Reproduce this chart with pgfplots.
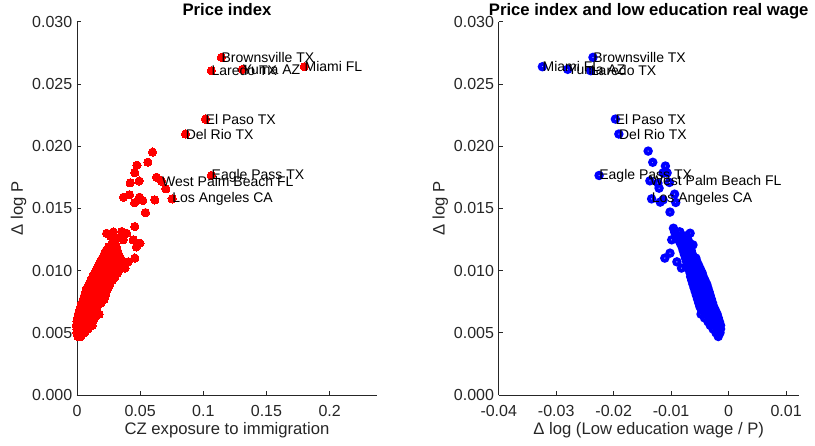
\documentclass[border=0pt]{standalone}
\usepackage{fontspec}
\setmainfont{Liberation Sans}
\usepackage{pgfplots}
\pgfplotsset{compat=1.18}

\definecolor{axgray}{RGB}{38,38,38}

\pgfplotsset{
  panel/.style={
    scale only axis, width=225pt, height=280pt,
    axis x line*=bottom, axis y line*=left,
    axis line style={axgray, line width=0.5pt, -},
    tick style={axgray, line width=0.5pt}, major tick length=3pt,
    tick label style={font=\fontsize{12}{14}\selectfont, text=axgray},
    xticklabel style={yshift=-4.5pt},
    label style={font=\fontsize{12.5}{15}\selectfont, text=axgray},
    every axis title shift=0pt,
    title style={font=\fontsize{12.5}{15}\selectfont\bfseries, at={(0.5,1)}, anchor=base, yshift=4.5pt, inner sep=0pt},
    scaled ticks=false,
    ymin=0, ymax=0.03,
    ytick={0,0.005,0.01,0.015,0.02,0.025,0.03},
    yticklabels={0.000,0.005,0.010,0.015,0.020,0.025,0.030},
    ylabel={Δ log P},
    ylabel style={at={(axis description cs:-0.195,0.5)}, anchor=center},
    xlabel style={at={(axis description cs:0.5,-0.094)}, anchor=center},
    clip=false,
  },
  citylab/.style={draw=none, mark=none, nodes near coords={\pgfplotspointmeta}, point meta=explicit symbolic,
    every node near coord/.append style={anchor=west, inner sep=0pt, font=\fontsize{10.5}{12}\selectfont, text=black}},
}

\begin{document}
\begin{tikzpicture}
% ---------- left panel ----------
\begin{axis}[panel, title={Price index}, xmin=0, xmax=0.2375,
    xtick={0,0.05,0.1,0.15,0.2}, xticklabels={0,0.05,0.1,0.15,0.2},
    xlabel={CZ exposure to immigration}]
\addplot[only marks, mark=*, mark size=3.1pt, mark options={draw=red, fill=red, line width=0pt}] coordinates {
 (0.0008,0.0047) (0.0030,0.0047)
 (0.0000,0.0050) (0.0020,0.0050) (0.0045,0.0050) (0.0060,0.0050)
 (0.0000,0.0053) (0.0020,0.0053) (0.0040,0.0053) (0.0060,0.0053) (0.0085,0.0053)
 (-0.0005,0.0056) (0.0015,0.0056) (0.0035,0.0056) (0.0055,0.0056) (0.0075,0.0056) (0.0100,0.0056) (0.0120,0.0056)
 (0.0000,0.0059) (0.0020,0.0059) (0.0040,0.0059) (0.0060,0.0059) (0.0080,0.0059) (0.0100,0.0059) (0.0125,0.0059)
 (0.0005,0.0062) (0.0025,0.0062) (0.0045,0.0062) (0.0065,0.0062) (0.0090,0.0062) (0.0115,0.0062) (0.0140,0.0062)
 (0.0010,0.0065) (0.0030,0.0065) (0.0055,0.0065) (0.0080,0.0065) (0.0105,0.0065) (0.0130,0.0065) (0.0175,0.0065)
 (0.0020,0.0068) (0.0040,0.0068) (0.0065,0.0068) (0.0090,0.0068) (0.0115,0.0068) (0.0140,0.0068)
 (0.0030,0.0071) (0.0055,0.0071) (0.0080,0.0071) (0.0105,0.0071) (0.0130,0.0071) (0.0160,0.0071)
 (0.0040,0.0074) (0.0065,0.0074) (0.0090,0.0074) (0.0115,0.0074) (0.0140,0.0074) (0.0170,0.0074) (0.0190,0.0074)
 (0.0050,0.0077) (0.0075,0.0077) (0.0100,0.0077) (0.0125,0.0077) (0.0150,0.0077) (0.0180,0.0077) (0.0215,0.0077)
 (0.0060,0.0080) (0.0085,0.0080) (0.0110,0.0080) (0.0135,0.0080) (0.0160,0.0080) (0.0190,0.0080) (0.0225,0.0080)
 (0.0070,0.0083) (0.0095,0.0083) (0.0120,0.0083) (0.0145,0.0083) (0.0170,0.0083) (0.0200,0.0083) (0.0230,0.0083)
 (0.0080,0.0086) (0.0105,0.0086) (0.0130,0.0086) (0.0155,0.0086) (0.0180,0.0086) (0.0210,0.0086) (0.0245,0.0086)
 (0.0095,0.0089) (0.0120,0.0089) (0.0145,0.0089) (0.0170,0.0089) (0.0195,0.0089) (0.0225,0.0089) (0.0260,0.0089)
 (0.0110,0.0092) (0.0135,0.0092) (0.0160,0.0092) (0.0185,0.0092) (0.0210,0.0092) (0.0240,0.0092) (0.0280,0.0092)
 (0.0125,0.0095) (0.0150,0.0095) (0.0175,0.0095) (0.0200,0.0095) (0.0225,0.0095) (0.0255,0.0095) (0.0300,0.0095)
 (0.0140,0.0098) (0.0165,0.0098) (0.0190,0.0098) (0.0215,0.0098) (0.0240,0.0098) (0.0270,0.0098) (0.0320,0.0098)
 (0.0155,0.0101) (0.0180,0.0101) (0.0205,0.0101) (0.0230,0.0101) (0.0260,0.0101) (0.0290,0.0101) (0.0340,0.0101)
 (0.0170,0.0104) (0.0195,0.0104) (0.0220,0.0104) (0.0245,0.0104) (0.0275,0.0104) (0.0310,0.0104) (0.0350,0.0104)
 (0.0185,0.0107) (0.0210,0.0107) (0.0235,0.0107) (0.0265,0.0107) (0.0295,0.0107) (0.0335,0.0107) (0.0365,0.0107)
 (0.0200,0.0110) (0.0225,0.0110) (0.0250,0.0110) (0.0280,0.0110) (0.0310,0.0110) (0.0345,0.0110)
 (0.0215,0.0113) (0.0240,0.0113) (0.0270,0.0113) (0.0300,0.0113) (0.0330,0.0113)
 (0.0230,0.0116) (0.0260,0.0116) (0.0290,0.0116) (0.0320,0.0116)
 (0.0250,0.0119) (0.0280,0.0119) (0.0310,0.0119)
 (0.0379,0.0102) (0.0405,0.0107) (0.0458,0.0110)
 (0.0274,0.01206) (0.0300,0.01233) (0.0366,0.01247) (0.0445,0.01247) (0.0498,0.0122) (0.0470,0.0119)
 (0.0235,0.0130) (0.0265,0.01275) (0.0287,0.0131) (0.0330,0.01265) (0.0353,0.01314) (0.0393,0.0130) (0.0458,0.01354)
 (0.0542,0.01466) (0.0456,0.01544) (0.0495,0.0159) (0.0521,0.01563) (0.0369,0.0159) (0.0416,0.01609)
 (0.0616,0.01568) (0.0703,0.01657) (0.0421,0.01705) (0.0492,0.0172) (0.0458,0.01786)
 (0.0630,0.0175) (0.0474,0.01847) (0.0561,0.01871) (0.0598,0.01952)
 (0.1143,0.02713) (0.1800,0.02638) (0.1064,0.02606) (0.1309,0.02617)
 (0.1017,0.02217) (0.0859,0.02097) (0.1064,0.01764) (0.0669,0.01719) (0.0753,0.01576)
};
\addplot[citylab] coordinates {
 (0.1143,0.02713) [Brownsville TX]
 (0.1800,0.02638) [Miami FL]
 (0.1064,0.02606) [Laredo TX]
 (0.1309,0.02617) [Yuma AZ]
 (0.1017,0.02217) [El Paso TX]
 (0.0859,0.02097) [Del Rio TX]
 (0.1064,0.01764) [Eagle Pass TX]
 (0.0672,0.01719) [West Palm Beach FL]
 (0.0753,0.01576) [Los Angeles CA]
};
\end{axis}

% ---------- right panel ----------
\begin{axis}[panel, xshift=316.3pt, title={Price index and low education real wage},
    xmin=-0.04, xmax=0.0122, xtick={-0.04,-0.03,-0.02,-0.01,0,0.01},
    xticklabels={-0.04,-0.03,-0.02,-0.01,0,0.01},
    xlabel={Δ log (Low education wage / P)}]
\addplot[only marks, mark=o, mark size=2.0pt, mark options={draw=blue, line width=2.9pt}] coordinates {
 (-0.0018,0.0047)
 (-0.0022,0.0050) (-0.0015,0.0050)
 (-0.0027,0.0053) (-0.0020,0.0053) (-0.0014,0.0053)
 (-0.0032,0.0056) (-0.0025,0.0056) (-0.0018,0.0056) (-0.0014,0.0056)
 (-0.0036,0.0059) (-0.0029,0.0059) (-0.0022,0.0059) (-0.0016,0.0059)
 (-0.0042,0.0062) (-0.0034,0.0062) (-0.0026,0.0062) (-0.0018,0.0062)
 (-0.0048,0.0065) (-0.0040,0.0065) (-0.0032,0.0065) (-0.0025,0.0065) (-0.0020,0.0065)
 (-0.0047,0.0068) (-0.0039,0.0068) (-0.0031,0.0068) (-0.0023,0.0068)
 (-0.0050,0.0071) (-0.0042,0.0071) (-0.0034,0.0071) (-0.0026,0.0071)
 (-0.0052,0.0074) (-0.0044,0.0074) (-0.0036,0.0074) (-0.0028,0.0074)
 (-0.0054,0.0077) (-0.0046,0.0077) (-0.0038,0.0077) (-0.0030,0.0077)
 (-0.0056,0.0080) (-0.0048,0.0080) (-0.0040,0.0080) (-0.0032,0.0080)
 (-0.0058,0.0083) (-0.0050,0.0083) (-0.0042,0.0083) (-0.0034,0.0083)
 (-0.0060,0.0086) (-0.0052,0.0086) (-0.0044,0.0086) (-0.0036,0.0086)
 (-0.0062,0.0089) (-0.0054,0.0089) (-0.0046,0.0089) (-0.0038,0.0089)
 (-0.0064,0.0092) (-0.0056,0.0092) (-0.0048,0.0092) (-0.0041,0.0092)
 (-0.0066,0.0095) (-0.0058,0.0095) (-0.0050,0.0095) (-0.0044,0.0095)
 (-0.0067,0.0098) (-0.0060,0.0098) (-0.0053,0.0098) (-0.0046,0.0098)
 (-0.0069,0.0101) (-0.0062,0.0101) (-0.0055,0.0101) (-0.0049,0.0101)
 (-0.0071,0.0104) (-0.0064,0.0104) (-0.0057,0.0104) (-0.0052,0.0104)
 (-0.0073,0.0107) (-0.0066,0.0107) (-0.0059,0.0107) (-0.0055,0.0107)
 (-0.0075,0.0110) (-0.0068,0.0110) (-0.0061,0.0110) (-0.0057,0.0110)
 (-0.0077,0.0113) (-0.0070,0.0113) (-0.0063,0.0113)
 (-0.0079,0.0116) (-0.0072,0.0116) (-0.0065,0.0116)
 (-0.0081,0.0119) (-0.0074,0.0119) (-0.0067,0.0119)
 (-0.0084,0.0122) (-0.0076,0.0122) (-0.0068,0.0122)
 (-0.0088,0.0125) (-0.0079,0.0125) (-0.0071,0.0125)
 (-0.0091,0.0128) (-0.0082,0.0128) (-0.0073,0.0128)
 (-0.0094,0.0131) (-0.0085,0.0131)
 (-0.0082,0.0102) (-0.0090,0.0107) (-0.0111,0.0110) (-0.0102,0.0114)
 (-0.0062,0.01206) (-0.0099,0.01247) (-0.0085,0.0131) (-0.0067,0.0130) (-0.0096,0.0134)
 (-0.0102,0.0147) (-0.0092,0.01547) (-0.0119,0.0155) (-0.0114,0.01568) (-0.0094,0.01614)
 (-0.0121,0.01662) (-0.0103,0.01708) (-0.0123,0.01703) (-0.0107,0.01785) (-0.0114,0.01785)
 (-0.0110,0.0184) (-0.0132,0.0187) (-0.0140,0.0196)
 (-0.0324,0.02638) (-0.0280,0.02617) (-0.0240,0.02606) (-0.0236,0.02713)
 (-0.0197,0.02217) (-0.0191,0.02097) (-0.02254,0.01764) (-0.0137,0.01721) (-0.0134,0.01576)
};
\addplot[citylab] coordinates {
 (-0.0324,0.02638) [Miami FL]
 (-0.0280,0.02617) [Yuma AZ]
 (-0.0240,0.02606) [Laredo TX]
 (-0.0236,0.02713) [Brownsville TX]
 (-0.0197,0.02217) [El Paso TX]
 (-0.0191,0.02097) [Del Rio TX]
 (-0.02254,0.01764) [Eagle Pass TX]
 (-0.0137,0.01721) [West Palm Beach FL]
 (-0.0134,0.01576) [Los Angeles CA]
};
\end{axis}
\pgfresetboundingbox
\useasboundingbox (-57.75pt,-38.25pt) rectangle (553.5pt,296.25pt);
\end{tikzpicture}
\end{document}
